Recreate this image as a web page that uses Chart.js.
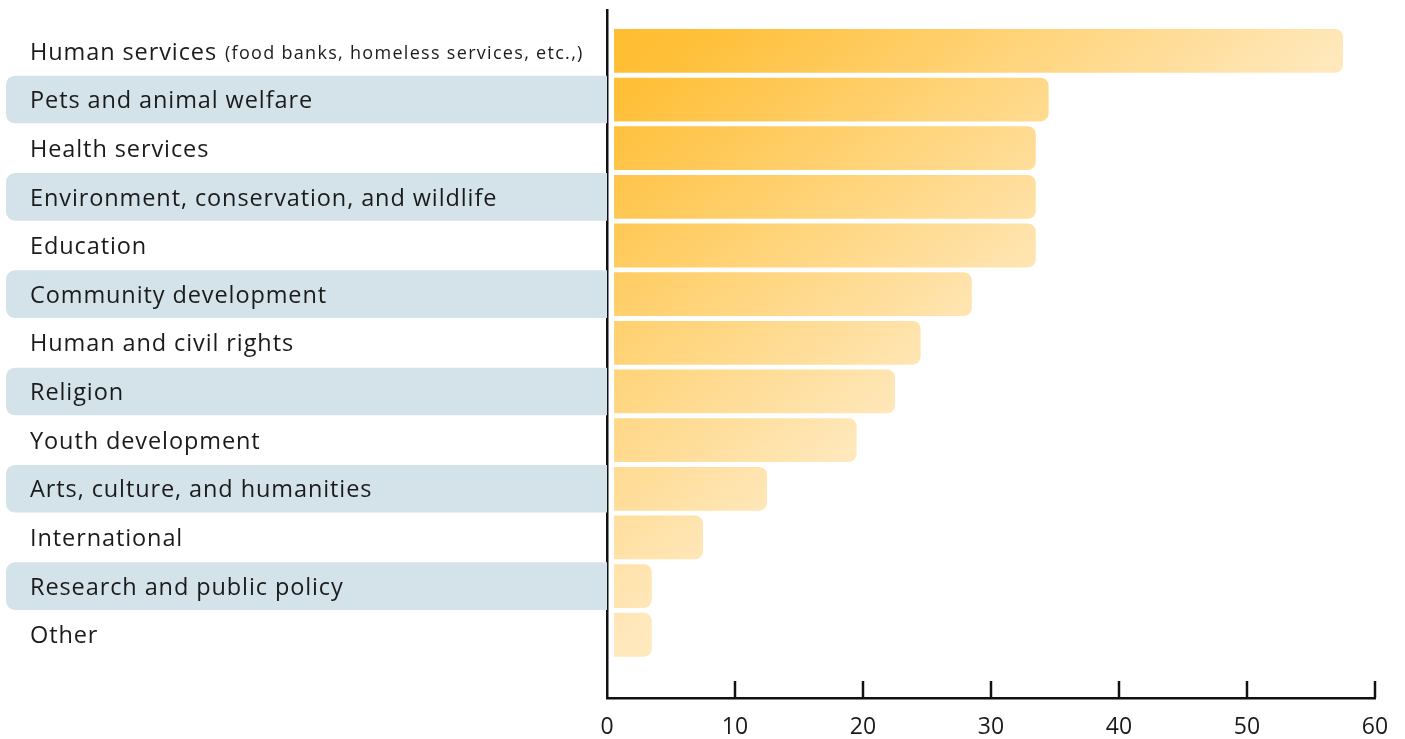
<!DOCTYPE html>
<html>
<head>
<meta charset="utf-8">
<script src="https://cdn.jsdelivr.net/npm/chart.js@4.4.1/dist/chart.umd.min.js"></script>
<style>
  html, body { margin: 0; padding: 0; background: #ffffff; }
  #wrap { width: 1405px; height: 739px; position: relative; }
</style>
</head>
<body>
<div id="wrap"><canvas id="c" width="1405" height="739"></canvas></div>
<script>
// ---- data ----
const categories = [
  "Human services",
  "Pets and animal welfare",
  "Health services",
  "Environment, conservation, and wildlife",
  "Education",
  "Community development",
  "Human and civil rights",
  "Religion",
  "Youth development",
  "Arts, culture, and humanities",
  "International",
  "Research and public policy",
  "Other"
];
const categoryNotes = ["(food banks, homeless services, etc.,)", "", "", "", "", "", "", "", "", "", "", "", ""];
const values = [57.5, 34.5, 33.5, 33.5, 33.5, 28.5, 24.5, 22.5, 19.5, 12.5, 7.5, 3.5, 3.5];
const xTicks = [0, 10, 20, 30, 40, 50, 60];

const FONT = "'Open Sans', 'Noto Sans', sans-serif";
const TEXT = "#1b1b1b";
const AXIS = "#111111";
const BAND = "#d4e2e9";

const bandsAndLabels = {
  id: "bandsAndLabels",
  beforeDatasetsDraw(chart) {
    const ctx = chart.ctx, y = chart.scales.y, area = chart.chartArea;
    ctx.save();
    categories.forEach((name, i) => {
      const top = y.getPixelForValue(i - 0.5) + 0.5;
      const bot = y.getPixelForValue(i + 0.5) - 0.5;
      if (i % 2 === 1) {
        ctx.fillStyle = BAND;
        ctx.beginPath();
        ctx.roundRect(6, top, area.left - 6, bot - top, [9, 0, 0, 9]);
        ctx.fill();
      }
      const cy = y.getPixelForValue(i) + 2;
      ctx.fillStyle = TEXT;
      ctx.textBaseline = "middle";
      ctx.textAlign = "left";
      ctx.font = "23.5px " + FONT;
      ctx.letterSpacing = "0.9px";
      ctx.fillText(name, 30, cy);
      if (categoryNotes[i]) {
        const w = ctx.measureText(name).width;
        ctx.font = "18px " + FONT;
        ctx.letterSpacing = "1.3px";
        ctx.fillText(categoryNotes[i], 30 + w + 8, cy + 1);
      }
    });
    ctx.restore();
  },
  afterDraw(chart) {
    const ctx = chart.ctx, x = chart.scales.x, area = chart.chartArea;
    ctx.save();
    ctx.strokeStyle = AXIS;
    ctx.lineWidth = 2.5;
    xTicks.forEach(t => {
      if (t === 0) return;
      const px = x.getPixelForValue(t);
      ctx.beginPath();
      ctx.moveTo(px, area.bottom);
      ctx.lineTo(px, area.bottom - 17);
      ctx.stroke();
    });
    ctx.restore();
  }
};

new Chart(document.getElementById("c"), {
  type: "bar",
  data: {
    datasets: [{
      data: values.map((v, i) => ({ x: v, y: i })),
      base: 0.55,
      barPercentage: 0.9,
      categoryPercentage: 1,
      borderRadius: 8,
      borderSkipped: "start",
      backgroundColor(c) {
        const chart = c.chart, a = chart.chartArea;
        if (!a) return "#ffc94d";
        const w = a.right - a.left, h = a.bottom - a.top;
        const g = chart.ctx.createLinearGradient(a.left, a.top, a.left + 0.41 * w, a.top + 0.56 * h);
        g.addColorStop(0, "#ffbc2e");
        g.addColorStop(0.15, "#ffbf37");
        g.addColorStop(1, "#ffe8bc");
        return g;
      }
    }]
  },
  options: {
    indexAxis: "y",
    responsive: false,
    animation: false,
    layout: { padding: { top: 10, right: 30, left: 0, bottom: 0 } },
    plugins: { legend: { display: false }, tooltip: { enabled: false } },
    scales: {
      x: {
        type: "linear",
        position: "bottom",
        min: 0, max: 60,
        afterBuildTicks(s) { s.ticks = xTicks.map(v => ({ value: v })); },
        afterFit(s) { s.height = 41; },
        grid: { display: false, drawTicks: false },
        border: { display: true, color: AXIS, width: 2.5 },
        ticks: { padding: 16, color: TEXT, font: { family: FONT, size: 23 }, maxRotation: 0 }
      },
      y: {
        type: "linear",
        reverse: true,
        offset: false,
        min: -0.84, max: 13.3,
        afterBuildTicks(s) { s.ticks = categories.map((_, i) => ({ value: i })); },
        afterFit(s) { s.width = 607; },
        grid: { display: false, drawTicks: false, offset: false },
        border: { display: true, color: AXIS, width: 2.5 },
        ticks: { display: false }
      }
    }
  },
  plugins: [bandsAndLabels]
});
</script>
</body>
</html>
